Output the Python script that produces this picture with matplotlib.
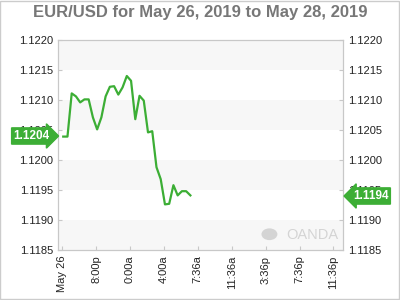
import matplotlib
matplotlib.use("Agg")
import matplotlib.pyplot as plt
import matplotlib.transforms as mtransforms
from matplotlib.patches import Rectangle, Circle

plt.rcParams['font.family'] = ['Liberation Sans', 'DejaVu Sans']

# hours since first tick (May 26), one point every 30 minutes
hours = [0.12, 0.62, 1.12, 1.62, 2.12, 2.62, 3.12, 3.62, 4.12, 4.62,
         5.12, 5.62, 6.12, 6.62, 7.12, 7.62, 8.12, 8.62, 9.12, 9.62,
         10.12, 10.62, 11.12, 11.62, 12.12, 12.62, 13.12, 13.62, 14.12, 14.62, 15.12]
rates = [1.12039, 1.12039, 1.12111, 1.12106, 1.12096, 1.12101, 1.12101, 1.12071,
         1.12051, 1.12071, 1.12106, 1.12122, 1.12123, 1.12109, 1.12121, 1.12140,
         1.12132, 1.12068, 1.12107, 1.12099, 1.12046, 1.12048, 1.11988, 1.11968,
         1.11926, 1.11927, 1.11958, 1.11941, 1.11948, 1.11948, 1.11941]

x_tick_pos = [0, 4, 8, 12, 16, 20, 24, 28, 32]
x_tick_labels = ["May 26", "8:00p", "0:00a", "4:00a", "7:36a",
                 "11:36a", "3:36p", "7:36p", "11:36p"]
y_ticks = [1.1185, 1.1190, 1.1195, 1.1200, 1.1205, 1.1210, 1.1215, 1.1220]

open_rate = "1.1204"
last_rate = "1.1194"

green = "#3cae35"

fig = plt.figure(figsize=(4, 3), dpi=100)
ax = fig.add_axes([0.146, 0.1667, 0.711, 0.7])

# alternating bands
for i in range(len(y_ticks) - 1):
    if i % 2 == 0:
        ax.axhspan(y_ticks[i], y_ticks[i + 1], color="#f7f7f7", lw=0, zorder=0)

ax.plot(hours, rates, color=green, lw=1.6, zorder=3)

ax.set_xlim(-0.45, 33.1)
ax.set_ylim(1.1185, 1.1220)
ax.set_xticks(x_tick_pos)
ax.set_xticklabels(x_tick_labels, rotation=90, fontsize=8, color="#222")
ax.set_yticks(y_ticks)
ax.set_yticklabels([f"{v:.4f}" for v in y_ticks], fontsize=8, color="#222")
ax.tick_params(axis="both", direction="in", length=3, color="#c8c8c8", width=0.8,
               left=True, right=True, labelleft=True, labelright=True, pad=4)
for s in ax.spines.values():
    s.set_color("#c8c8c8")
    s.set_linewidth(0.9)

# price labels
trans = mtransforms.blended_transform_factory(ax.transAxes, ax.transData)
ax.text(-0.03, float(open_rate), open_rate, transform=trans, ha="right", va="center",
        fontsize=8.5, fontweight="bold", color="white", zorder=5, clip_on=False,
        bbox=dict(boxstyle="rarrow,pad=0.18", fc=green, ec=green))
ax.text(1.035, float(last_rate), last_rate, transform=trans, ha="left", va="center",
        fontsize=8.5, fontweight="bold", color="white", zorder=5, clip_on=False,
        bbox=dict(boxstyle="larrow,pad=0.18", fc=green, ec=green))

# watermark
ax.text(0.985, 0.04, "OANDA", transform=ax.transAxes, ha="right", va="bottom",
        fontsize=10.5, color="#d4d4d4", zorder=2)
ax.add_patch(Circle((0.742, 0.075), 0.028, transform=ax.transAxes,
                    facecolor="#d4d4d4", edgecolor="none", zorder=2))

fig.text(0.5, 0.958, "EUR/USD for May 26, 2019 to May 28, 2019", ha="center", va="center",
         fontsize=12, fontweight="bold", color="#777777")

fig.patches.append(Rectangle((0.001, 0.002), 0.997, 0.995, transform=fig.transFigure,
                             fill=False, edgecolor="#cccccc", lw=1))

fig.savefig("out.png", dpi=100)
